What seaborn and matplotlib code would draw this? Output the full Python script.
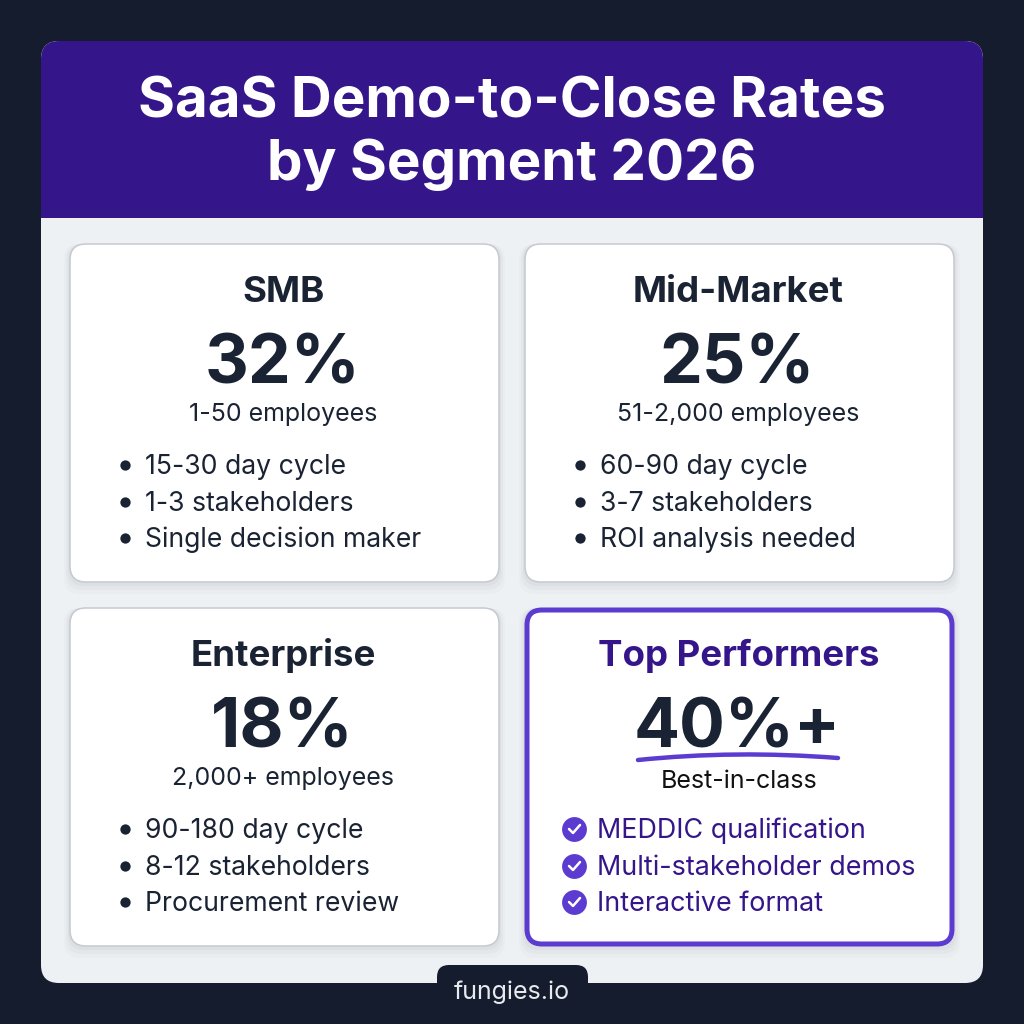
import matplotlib
matplotlib.use('Agg')
import matplotlib.pyplot as plt
from matplotlib.patches import FancyBboxPatch, PathPatch, Rectangle
from matplotlib.path import Path
import seaborn as sns
import pandas as pd

# Datos
title_lines = ['SaaS Demo-to-Close Rates', 'by Segment 2026']
segments = ['SMB', 'Mid-Market', 'Enterprise', 'Top Performers']
rates = ['32%', '25%', '18%', '40%+']
sizes = ['1-50 employees', '51-2,000 employees', '2,000+ employees', 'Best-in-class']
details_smb = ['15-30 day cycle', '1-3 stakeholders', 'Single decision maker']
details_mid = ['60-90 day cycle', '3-7 stakeholders', 'ROI analysis needed']
details_ent = ['90-180 day cycle', '8-12 stakeholders', 'Procurement review']
details_top = ['MEDDIC qualification', 'Multi-stakeholder demos', 'Interactive format']
details = [details_smb, details_mid, details_ent, details_top]
footer = 'fungies.io'

NAVY = '#141c2e'
INK = '#1a2333'
PURPLE = '#35168a'
VIOLET = '#5b3bd0'
PANEL = '#eef1f4'

sns.set_theme(style='white')
plt.rcParams['font.family'] = ['Inter', 'DejaVu Sans']

fig = plt.figure(figsize=(10.24, 10.24), dpi=100, facecolor=NAVY)
ax = fig.add_axes([0, 0, 1, 1])
ax.set_xlim(0, 1024)
ax.set_ylim(1024, 0)
ax.axis('off')


def label(x, y, s, size, color=INK, weight='normal', ha='center', z=10):
    # tamaño en pixeles
    return ax.text(x, y, s, fontsize=size * 0.72, color=color, ha=ha, va='baseline',
                   fontweight=weight, zorder=z)


def box(x0, y0, x1, y1, r, **kw):
    p = FancyBboxPatch((x0 + r, y0 + r), x1 - x0 - 2 * r, y1 - y0 - 2 * r,
                       boxstyle=f'round,pad={r},rounding_size={r}', **kw)
    ax.add_patch(p)
    return p


# Panel y cabecera
box(41, 41, 983, 983, 18, fc=PANEL, ec='none', zorder=1)
clip = box(41, 41, 983, 983, 18, fc='none', ec='none', zorder=1)
header = Rectangle((41, 41), 942, 177, fc=PURPLE, ec='none', zorder=2)
ax.add_patch(header)
header.set_clip_path(clip)
label(512, 118, title_lines[0], 56.5, 'white', weight='bold')
label(512, 180, title_lines[1], 56.5, 'white', weight='bold')

# Tarjetas
card_x = [70, 525, 70, 525]
card_y = [244, 244, 608, 608]
card_w, card_h = 429, 338

for i, seg in enumerate(segments):
    x0, y0 = card_x[i], card_y[i]
    x1, y1 = x0 + card_w, y0 + card_h
    cx = (x0 + x1) / 2
    top = i == 3
    # sombra
    for k, a in zip([12, 8, 4], [0.02, 0.03, 0.04]):
        box(x0 - k / 2, y0, x1 + k / 2, y1 + k, 16, fc='#303848', alpha=a, ec='none', zorder=3)
    if top:
        box(x0 + 2, y0 + 2, x1 - 2, y1 - 2, 15, fc='white', ec=VIOLET, lw=3.6, zorder=4)
    else:
        box(x0, y0, x1, y1, 16, fc='white', ec='#c5c9d1', lw=1.1, zorder=4)

    label(cx - 1, y0 + 58, seg, 36.6, PURPLE if top else INK, weight='bold')
    label(cx - 2, y0 + 139, rates[i], 68, INK, weight='bold')
    label(cx - 1 if not top else cx, y0 + (177 if not top else 180), sizes[i], 25,
          INK if not top else '#111111')

    offs = [230, 267, 303]
    rows = pd.DataFrame({'x': [x0 + (49 if top else 55)] * 3, 'y': [y0 + o - 9 for o in offs]})
    if top:
        sns.scatterplot(data=rows, x='x', y='y', ax=ax, s=320, color=VIOLET, linewidth=0, zorder=6, legend=False)
        for yy in rows['y']:
            ax.plot([x0 + 44, x0 + 48, x0 + 55], [yy, yy + 4, yy - 4], color='white', lw=1.8,
                    solid_capstyle='round', solid_joinstyle='round', zorder=7)
    else:
        sns.scatterplot(data=rows, x='x', y='y', ax=ax, s=55, color=INK, linewidth=0, zorder=6, legend=False)
    for o, d in zip(offs, details[i]):
        label(x0 + (72 if top else 75), y0 + o, d, 26.9 if top else 26.6, PURPLE if top else INK, ha='left')

ax.set_xlim(0, 1024)
ax.set_ylim(1024, 0)

# Subrayado de 40%+
under = Path([(638, 760), (735, 750), (838, 758)], [Path.MOVETO, Path.CURVE3, Path.CURVE3])
ax.add_patch(PathPatch(under, fc='none', ec=VIOLET, lw=3.2, capstyle='round', zorder=8))

# Pie
box(437, 965, 588, 1010, 12, fc=NAVY, ec='none', zorder=9)
label(512, 999, footer, 25, '#e8eaee')

ax.set_xlabel('')
ax.set_ylabel('')
fig.savefig('out.png', dpi=100, facecolor=NAVY)
